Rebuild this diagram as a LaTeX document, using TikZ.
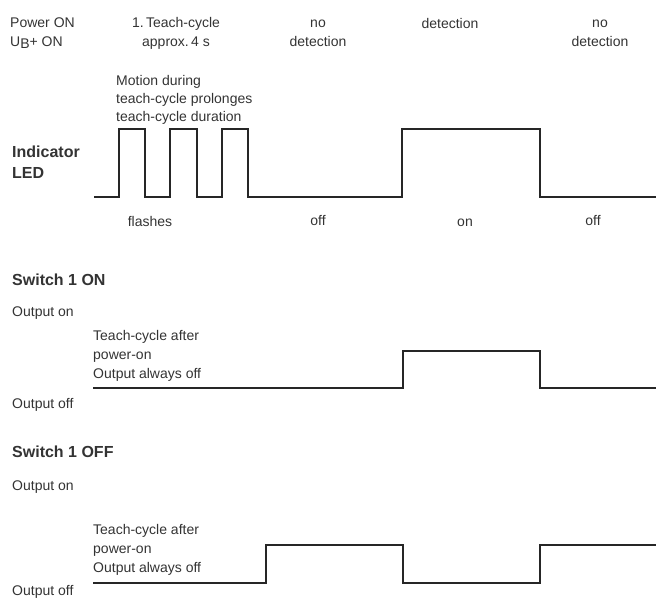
\documentclass[tikz,border=0pt]{standalone}
\usepackage{fontspec}
\setmainfont{Liberation Sans}

\begin{document}
\begin{tikzpicture}[x=1pt,y=-1pt,
    lbl/.style={inner sep=0pt,text=black!80,font=\fontsize{14}{19}\selectfont},
    tight/.style={font=\fontsize{14}{18}\selectfont},
    head/.style={lbl,font=\fontsize{16}{21}\selectfont\bfseries},
    trace/.style={line width=2.5pt,draw=black!85,line join=miter}]
  \useasboundingbox (0,0) rectangle (656,604);
  % top captions
  \node (power) [lbl,anchor=west,align=left] at (10,33) {Power ON\\U\raisebox{-0.35ex}{B}+ ON};
  \node (teach) [lbl,align=center] at (176,33) {1.\,Teach-cycle\\approx.\,4 s};
  \node (nodetA) [lbl,align=center] at (318,33) {no\\detection};
  \node (detect) [lbl] at (450,23) {detection};
  \node (nodetB) [lbl,align=center] at (600,33) {no\\detection};
  \node (motion) [lbl,tight,anchor=west,align=left] at (116,100) {Motion during\\teach-cycle prolonges\\teach-cycle duration};
  % indicator LED
  \node (led) [head,anchor=west,align=left] at (12,162) {Indicator\\LED};
  \draw [trace] (94,197) -- (119,197) -- (119,129) -- (145,129) -- (145,197)
    -- (170,197) -- (170,129) -- (197,129) -- (197,197)
    -- (222,197) -- (222,129) -- (248,129) -- (248,197)
    -- (402,197) -- (402,129) -- (540,129) -- (540,197) -- (656,197);
  \node (flash) [lbl] at (150,221) {flashes};
  \node (offA) [lbl] at (318,221) {off};
  \node (onA) [lbl] at (465,223) {on};
  \node (offB) [lbl] at (593,221) {off};
  % switch 1 on
  \node (swon) [head,anchor=west] at (12,280) {Switch 1 ON};
  \node (outonA) [lbl,anchor=west] at (12,313) {Output on};
  \node (tcA) [lbl,anchor=west,align=left] at (93,356) {Teach-cycle after\\power-on\\Output always off};
  \node (outoffA) [lbl,anchor=west] at (12,405) {Output off};
  \draw [trace] (93,388) -- (403,388) -- (403,351) -- (540,351) -- (540,388) -- (656,388);
  % switch 1 off
  \node (swoff) [head,anchor=west] at (12,452) {Switch 1 OFF};
  \node (outonB) [lbl,anchor=west] at (12,487) {Output on};
  \node (tcB) [lbl,anchor=west,align=left] at (93,550) {Teach-cycle after\\power-on\\Output always off};
  \node (outoffB) [lbl,anchor=west] at (12,592) {Output off};
  \draw [trace] (93,583) -- (266,583) -- (266,545) -- (403,545) -- (403,583)
    -- (540,583) -- (540,545) -- (656,545);
\end{tikzpicture}
\end{document}
